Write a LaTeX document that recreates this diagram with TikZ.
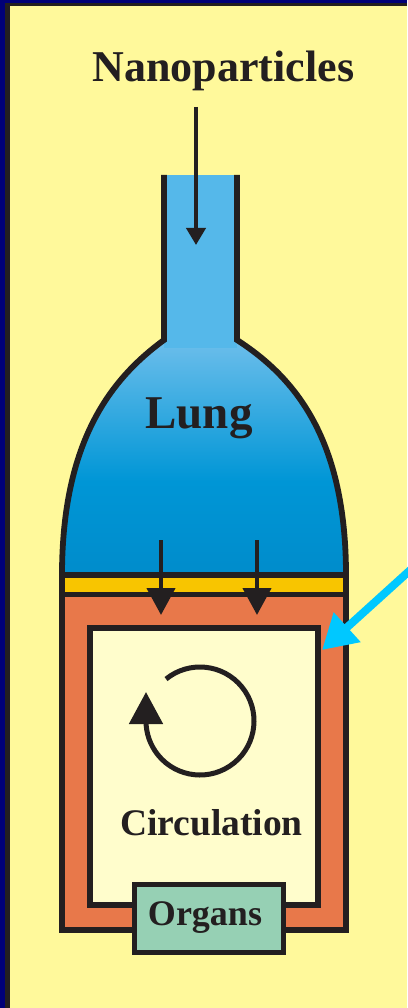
\documentclass[tikz,border=0pt]{standalone}
\usepackage{fontspec}
\setmainfont{Liberation Serif}
\usetikzlibrary{arrows.meta,calc}
\definecolor{navyframe}{RGB}{0,0,120}
\definecolor{darkline}{RGB}{35,31,32}
\definecolor{bgyellow}{RGB}{255,249,155}
\definecolor{lightyel}{RGB}{255,253,204}
\definecolor{orangewall}{RGB}{232,120,74}
\definecolor{bandyel}{RGB}{248,197,0}
\definecolor{neckblue}{RGB}{85,184,234}
\definecolor{lungtop}{RGB}{108,190,235}
\definecolor{lungmid}{RGB}{0,150,214}
\definecolor{lungbot}{RGB}{0,140,203}
\definecolor{organgreen}{RGB}{150,208,180}
\definecolor{cyanarrow}{RGB}{0,200,255}
\pgfdeclareverticalshading{lungshade}{100bp}{color(0bp)=(lungbot); color(25bp)=(lungbot); color(45bp)=(lungmid); color(75bp)=(lungtop); color(100bp)=(lungtop)}
\tikzset{
  outline/.style={draw=darkline,line width=5.8pt,line join=miter},
  flowarrow/.style={draw=darkline,line width=4.5pt,-{Triangle[width=28pt,length=27pt]}},
  label/.style={text=darkline,font=\bfseries,anchor=base,inner sep=0pt},
}
\begin{document}
\begin{tikzpicture}[x=1pt,y=-1pt]
\useasboundingbox (0,0) rectangle (407,1008);
% frame
\fill[navyframe] (0,0) rectangle (407,1008);
\fill[darkline] (4.5,3) rectangle (407,1008);
\fill[bgyellow] (9.5,6) rectangle (407,1008);
% lung dome
\shade[shading=lungshade]
  (164,340) .. controls (112,378) and (62,440) .. (62,575)
  -- (346,575) .. controls (346,440) and (296,378) .. (237,340) -- cycle;
\fill[neckblue] (164,175) rectangle (237,348);
% bands
\fill[bandyel] (62,575) rectangle (346,594.5);
\fill[orangewall] (62,594.5) rectangle (346,930);
% circulation box
\node[outline,fill=lightyel,minimum width=228pt,minimum height=277pt,inner sep=0pt] (circ) at (204,766.5) {};
% outline
\draw[outline] (164,175) -- (164,340) .. controls (112,378) and (62,440) .. (62,575)
  -- (62,930) -- (346,930) -- (346,575) .. controls (346,440) and (296,378) .. (237,340) -- (237,175);
\draw[outline] (62,575) -- (346,575);
\draw[outline] (62,594.5) -- (346,594.5);
% organs
\node[outline,line width=5pt,fill=organgreen,minimum width=149pt,minimum height=67.5pt,inner sep=0pt] (organs) at (209,918.25) {};
\node[label,font=\bfseries\fontsize{36}{40}\selectfont] (organstxt) at (205,925) {Organs};
% texts
\node[label,font=\bfseries\fontsize{44}{50}\selectfont] (nano) at (223.5,82) {Nanoparticles};
\node[label,font=\bfseries\fontsize{47}{52}\selectfont] (lung) at (199,428) {Lung};
\node[label,font=\bfseries\fontsize{37.5}{42}\selectfont] (circtxt) at (211.5,835) {Circulation};
% arrows
\coordinate (n1) at (196,107);
\coordinate (n2) at (196,245);
\draw[draw=darkline,line width=4pt,-{Triangle[width=19pt,length=17pt]}] (n1) -- (n2);
\coordinate (a1) at (161,540);
\coordinate (a2) at (161,615);
\coordinate (b1) at (257,540);
\coordinate (b2) at (257,615);
\draw[flowarrow] (a1) -- (a2);
\draw[flowarrow] (b1) -- (b2);
% circulation loop
\coordinate (c0) at (200,721);
\draw[draw=darkline,line width=5pt,-{Triangle[width=33pt,length=32pt]}]
  ($(c0)+(-129:54)$) arc[start angle=-129,end angle=180,radius=54] -- ++(0,-29);
% cyan arrow
\coordinate (cy1) at (412,568.5);
\coordinate (cy2) at (322,650);
\draw[draw=cyanarrow,line width=8pt,-{Triangle[width=38pt,length=34pt]}] (cy1) -- (cy2);
\end{tikzpicture}
\end{document}
